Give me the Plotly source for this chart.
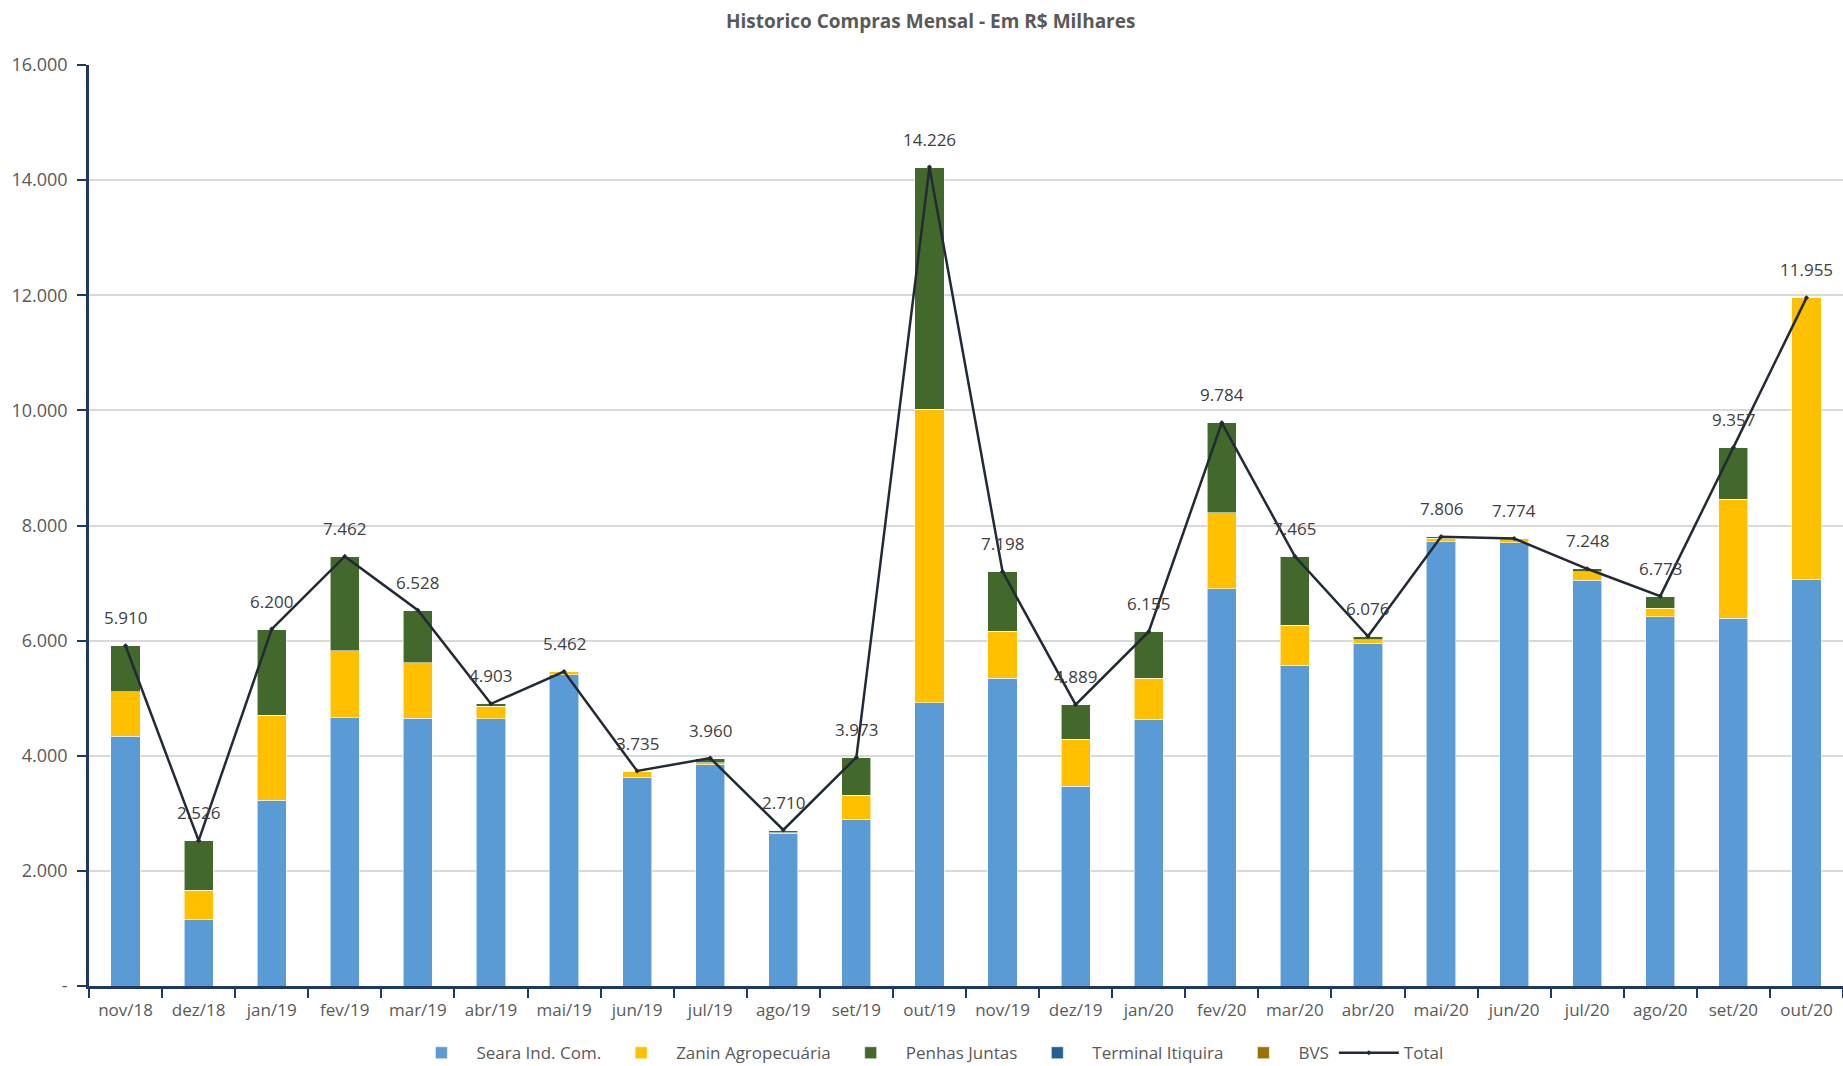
import plotly.graph_objects as go

months = ["nov/18", "dez/18", "jan/19", "fev/19", "mar/19", "abr/19", "mai/19", "jun/19",
          "jul/19", "ago/19", "set/19", "out/19", "nov/19", "dez/19", "jan/20", "fev/20",
          "mar/20", "abr/20", "mai/20", "jun/20", "jul/20", "ago/20", "set/20", "out/20"]

seara = [4340, 1150, 3230, 4660, 4650, 4643, 5410, 3623, 3843, 2649, 2893, 4920,
         5350, 3470, 4630, 6900, 5570, 5953, 7716, 7704, 7049, 6412, 6388, 7066]
zanin = [775, 514, 1470, 1160, 968, 214, 52, 112, 35, 12, 423, 5100,
         810, 820, 720, 1320, 700, 59, 63, 47, 151, 150, 2064, 4889]
penhas = [795, 862, 1500, 1642, 910, 46, 0, 0, 82, 49, 657, 4206,
          1038, 599, 805, 1564, 1195, 64, 27, 23, 48, 211, 905, 0]
terminal = [0] * 24
bvs = [0] * 24
total = [5910, 2526, 6200, 7462, 6528, 4903, 5462, 3735, 3960, 2710, 3973, 14226,
         7198, 4889, 6155, 9784, 7465, 6076, 7806, 7774, 7248, 6773, 9357, 11955]

y_ticks = [0, 2000, 4000, 6000, 8000, 10000, 12000, 14000, 16000]
y_tick_text = ["-", "2.000", "4.000", "6.000", "8.000", "10.000", "12.000", "14.000", "16.000"]

FONT = "Open Sans"
fig = go.Figure()

bar_line = dict(width=0.8, color="rgba(255,255,255,0.7)")
for name, vals, color in [("Seara Ind. Com.", seara, "#5B9BD5"),
                          ("Zanin Agropecuária", zanin, "#FFC000"),
                          ("Penhas Juntas", penhas, "#43682B"),
                          ("Terminal Itiquira", terminal, "#255E91"),
                          ("BVS", bvs, "#997300")]:
    fig.add_trace(go.Bar(x=months, y=vals, name=name,
                         marker=dict(color=color, line=bar_line)))

fig.add_trace(go.Scatter(x=months, y=total, name="Total", mode="lines+markers",
                         line=dict(color="#222A35", width=2.5),
                         marker=dict(symbol="diamond", size=4, color="#222A35")))

for m, t in zip(months, total):
    fig.add_annotation(x=m, y=t, text=f"{t:,}".replace(",", "."), showarrow=False,
                       yshift=28, font=dict(family=FONT, size=17, color="#404040"))

fig.update_layout(
    width=1843, height=1066,
    barmode="stack", bargap=0.6,
    plot_bgcolor="white", paper_bgcolor="white",
    margin=dict(l=89, r=0, t=65, b=80, autoexpand=False),
    title=dict(text="<b>Historico Compras Mensal - Em R$ Milhares</b>",
               x=0.505, xanchor="center", y=0.98, yanchor="middle",
               font=dict(family=FONT, size=19, color="#595959")),
    legend=dict(orientation="h", x=0.478, xanchor="center",
                yref="container", y=0.012, yanchor="middle",
                traceorder="normal", font=dict(family=FONT, size=17, color="#595959"),
                itemwidth=60),
    showlegend=True,
)

fig.update_xaxes(range=[-0.5, 23.5], showline=True, linecolor="#1F3864", linewidth=2.5,
                 ticks="outside", tickson="boundaries", ticklen=9, tickwidth=2,
                 tickcolor="#1F3864", showgrid=False, ticklabelstandoff=7,
                 tickfont=dict(family=FONT, size=17, color="#595959"))
fig.update_yaxes(range=[0, 16000], tickvals=y_ticks, ticktext=y_tick_text,
                 showline=True, linecolor="#1F3864", linewidth=2.5,
                 ticks="outside", ticklen=9, tickwidth=2, tickcolor="#1F3864",
                 showgrid=True, gridcolor="#D9D9D9", gridwidth=1.5,
                 zeroline=False, ticklabelstandoff=6,
                 tickfont=dict(family=FONT, size=18, color="#595959"))

fig.write_html("out.html", config={"displayModeBar": False},
               post_script="document.body.style.margin='0px';document.body.style.overflow='hidden';")
